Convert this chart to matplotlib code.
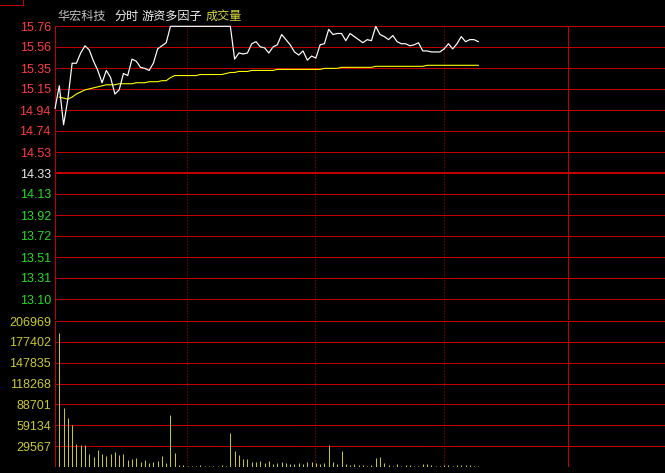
import matplotlib
matplotlib.use("Agg")
import matplotlib.pyplot as plt
import numpy as np

# ---------------- data ----------------
stock_name = "华宏科技"
header_parts = ["分时", "游资多因子", "成交量"]
prev_close = 14.33

price_tick_labels = ["15.76", "15.56", "15.35", "15.15", "14.94", "14.74", "14.53",
                     "14.33", "14.13", "13.92", "13.72", "13.51", "13.31", "13.10"]
volume_tick_labels = ["206969", "177402", "147835", "118268", "88701", "59134", "29567"]

# price, one value per 2-minute slot, first value is the open (slot -1)
price = [14.96,
         15.18, 14.80, 15.05, 15.40, 15.40, 15.50, 15.57, 15.53, 15.42, 15.33,
         15.21, 15.33, 15.26, 15.10, 15.14, 15.30, 15.28, 15.44, 15.42, 15.36,
         15.35, 15.33, 15.40, 15.54, 15.57, 15.60, 15.76, 15.76, 15.76, 15.76,
         15.76, 15.76, 15.76, 15.76, 15.76, 15.76, 15.76, 15.76, 15.76, 15.76,
         15.76, 15.44, 15.50, 15.49, 15.50, 15.59, 15.61, 15.56, 15.55, 15.50,
         15.56, 15.58, 15.68, 15.63, 15.58, 15.51, 15.48, 15.52, 15.43, 15.47,
         15.45, 15.58, 15.59, 15.73, 15.68, 15.69, 15.69, 15.62, 15.69, 15.66,
         15.63, 15.60, 15.63, 15.62, 15.76, 15.68, 15.66, 15.63, 15.67, 15.61,
         15.59, 15.59, 15.57, 15.58, 15.60, 15.52, 15.52, 15.51, 15.51, 15.51,
         15.54, 15.59, 15.54, 15.59, 15.66, 15.61, 15.63, 15.63, 15.61]

avg_price = [15.07, 15.06, 15.05, 15.07, 15.10, 15.12, 15.14, 15.15, 15.16, 15.17,
             15.18, 15.19, 15.19, 15.19, 15.20, 15.20, 15.20, 15.20, 15.21, 15.21,
             15.21, 15.22, 15.22, 15.22, 15.23, 15.23, 15.26, 15.28, 15.28, 15.28,
             15.28, 15.28, 15.28, 15.29, 15.29, 15.29, 15.29, 15.29, 15.29, 15.30,
             15.31, 15.31, 15.32, 15.32, 15.32, 15.33, 15.33, 15.33, 15.33, 15.33,
             15.33, 15.34, 15.34, 15.34, 15.34, 15.34, 15.34, 15.34, 15.34, 15.34,
             15.34, 15.34, 15.35, 15.35, 15.35, 15.35, 15.36, 15.36, 15.36, 15.36,
             15.36, 15.36, 15.36, 15.36, 15.37, 15.37, 15.37, 15.37, 15.37, 15.37,
             15.37, 15.37, 15.37, 15.37, 15.37, 15.37, 15.38, 15.38, 15.38, 15.38,
             15.38, 15.38, 15.38, 15.38, 15.38, 15.38, 15.38, 15.38, 15.38]

volume = [190500, 83900, 69650, 59700, 32700, 31300, 31300, 18500, 14200, 24200,
          18500, 15600, 18500, 21300, 17000, 18500, 9950, 11400, 12800, 7100,
          9950, 5700, 7100, 8500, 15600, 5700, 73900, 19900, 2800, 2800,
          1400, 1400, 1400, 2800, 1400, 1400, 1400, 1400, 2800, 1400,
          48300, 22600, 16900, 11300, 11300, 7000, 7000, 8500, 5660, 8500,
          4240, 5660, 7070, 5660, 4240, 4240, 5660, 4240, 7070, 7070,
          5660, 4240, 5660, 31100, 7070, 4240, 22600, 4240, 2830, 4240,
          2830, 2830, 1410, 2830, 12700, 14100, 5660, 2830, 1410, 4240,
          1410, 2830, 2830, 1410, 1410, 4240, 4240, 2830, 1410, 1410,
          2830, 2830, 1410, 2830, 2830, 2830, 2830, 1410, 1410]

# ---------------- style ----------------
W, H = 665, 473
DPI = 100
BG = "#000000"
GRID = "#c00000"
RED_TXT = "#ff3c3c"
GREEN_TXT = "#22dd22"
WHITE_TXT = "#e8e8e8"
VOL_TXT = "#c8c832"
VOL_BAR = "#c8c81e"
PX = 72.0 / DPI  # one pixel in points

num_font = ["Liberation Sans", "DejaVu Sans"]
cjk_font = ["Noto Sans CJK SC", "DejaVu Sans"]

fig = plt.figure(figsize=(W / DPI, H / DPI), dpi=DPI, facecolor=BG)


def fx(px):
    return px / W


def fy(py):
    return 1 - py / H


left_px, right_px = 55, 665
x0_px, step_px = 59.3, 4.276
xlim = ((left_px - x0_px) / step_px, (right_px - x0_px) / step_px)

ax_p = fig.add_axes([fx(left_px), fy(320), fx(right_px - left_px), (320 - 26) / H])
ax_v = fig.add_axes([fx(left_px), fy(467), fx(right_px - left_px), (467 - 321) / H])

for ax in (ax_p, ax_v):
    ax.set_facecolor(BG)
    ax.set_xlim(*xlim)
    for s in ax.spines.values():
        s.set_visible(False)
    ax.set_xticks([])
    ax.tick_params(axis="y", length=0, pad=3)

ax_p.set_ylim(prev_close * 0.9, prev_close * 1.1)
ax_v.set_ylim(0, float(volume_tick_labels[0]))

gkw = dict(color=GRID, zorder=1, snap=True)

pt_vals = [float(s) for s in price_tick_labels]
for v in pt_vals:
    lw = 2 * PX if abs(v - prev_close) < 1e-6 else PX
    ax_p.axhline(v, lw=lw, **gkw)
ax_p.set_yticks(pt_vals)
ax_p.set_yticklabels(price_tick_labels, fontfamily=num_font, fontsize=9)
for lbl, v in zip(ax_p.get_yticklabels(), pt_vals):
    if abs(v - prev_close) < 1e-6:
        lbl.set_color(WHITE_TXT)
    elif v > prev_close:
        lbl.set_color(RED_TXT)
    else:
        lbl.set_color(GREEN_TXT)

vt_vals = [float(s) for s in volume_tick_labels]
for v in vt_vals:
    lw = 2 * PX if v == vt_vals[0] else PX
    ax_v.axhline(v, lw=lw, **gkw)
ax_v.axhline(0, lw=PX, **gkw)
ax_v.set_yticks(vt_vals)
ax_v.set_yticklabels(volume_tick_labels, fontfamily=num_font, fontsize=9, color=VOL_TXT)

for ax in (ax_p, ax_v):
    ax.axvline(xlim[0] + 0.1, lw=PX, **gkw)
    ax.axvline(119.0, lw=PX, **gkw)
    for xv in (29.93, 59.87, 89.97):
        ax.axvline(xv, lw=PX, ls=(0, (1, 2)), **gkw)

px_idx = np.arange(len(price)) - 1
ax_p.plot(px_idx, price, color="white", lw=1.2 * PX, zorder=3, clip_on=False)
ax_p.plot(np.arange(len(avg_price)), avg_price, color="#ffff00", lw=1.1 * PX, zorder=2)

ax_v.vlines(np.arange(len(volume)), 0, volume, color=VOL_BAR, lw=PX, zorder=2,
            snap=True)

fig.text(fx(57), fy(16), stock_name, color="#c0c0c0", fontsize=8.7,
         fontfamily=cjk_font, va="center", ha="left")
fig.text(fx(114), fy(16), header_parts[0], color="#f0f0f0", fontsize=8.7,
         fontfamily=cjk_font, va="center", ha="left")
fig.text(fx(142), fy(16), header_parts[1], color="#f0f0f0", fontsize=8.7,
         fontfamily=cjk_font, va="center", ha="left")
fig.text(fx(206), fy(16), header_parts[2], color="#d4d43c", fontsize=8.7,
         fontfamily=cjk_font, va="center", ha="left")

fig.add_artist(plt.Line2D([0, fx(23)], [fy(5.5), fy(5.5)], color=GRID, lw=PX, snap=True))
fig.add_artist(plt.Line2D([fx(23), fx(23)], [fy(0), fy(5.5)], color=GRID, lw=PX, snap=True))

fig.savefig("out.png", dpi=DPI, facecolor=BG)
